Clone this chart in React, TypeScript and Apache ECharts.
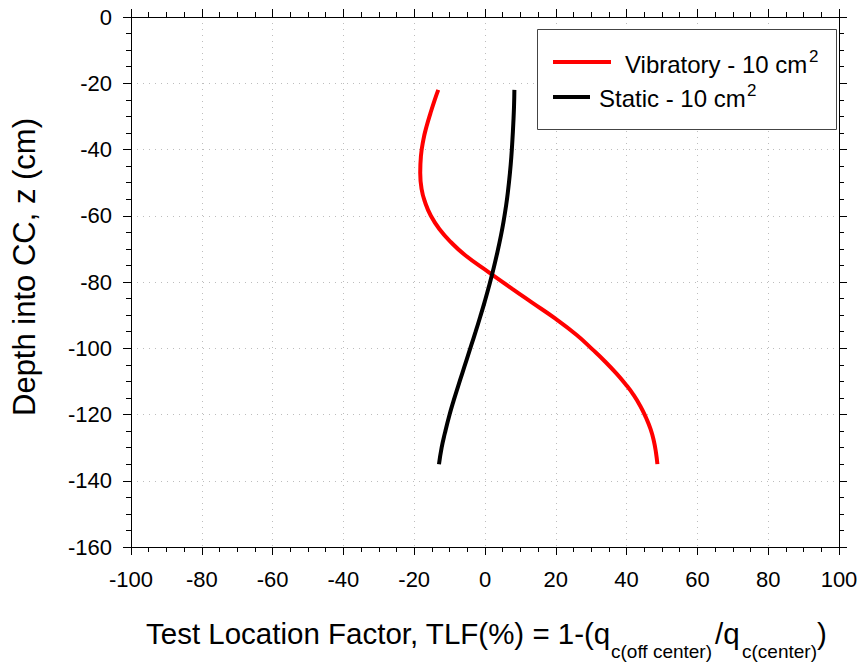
import React, { useEffect, useRef } from "react";
import * as echarts from "echarts";

// Vibratory - 10 cm2 (red): depth z (cm) and TLF (%)
const vibDepth = [-22, -25, -29, -33, -37, -42, -47, -52, -56, -60, -64, -68, -72, -77, -82, -86, -91, -96, -100.5, -104, -107.6, -111, -114, -117.5, -121, -124.5, -128, -131.5, -135];
const vibTLF = [-13.2, -14.2, -15.4, -16.5, -17.4, -18.1, -18.3, -17.9, -16.9, -15.3, -12.9, -9.6, -5.5, 1.0, 7.6, 13.0, 19.8, 25.9, 30.5, 33.9, 37.1, 39.8, 41.9, 43.9, 45.5, 46.8, 47.7, 48.3, 48.7];

// Static - 10 cm2 (black): depth z (cm) and TLF (%)
const staticDepth = [-22, -27, -32, -37, -42, -47, -53, -57, -62, -66, -71, -76, -81, -86, -90.5, -95, -99, -103.5, -107.5, -111.5, -115.6, -120, -125.7, -130, -135];
const staticTLF = [8.3, 8.2, 8.0, 7.75, 7.45, 7.05, 6.45, 5.95, 5.2, 4.5, 3.5, 2.4, 1.2, -0.1, -1.35, -2.65, -3.85, -5.2, -6.4, -7.6, -8.8, -10.0, -11.35, -12.25, -13.0];

const xRange = [-100, 100];
const yRange = [-160, 0];
const majorStep = 20;

const seriesNames = ["Vibratory - 10 cm", "Static - 10 cm"];

const FONT = "'Liberation Sans', Arial, Helvetica, sans-serif";

export default function App() {
  const ref = useRef<HTMLDivElement>(null);

  useEffect(() => {
    if (!ref.current) return;
    const chart = echarts.init(ref.current, undefined, { renderer: "svg" });

    const vibData = vibDepth.map((z, i) => [vibTLF[i], z]);
    const staticData = staticDepth.map((z, i) => [staticTLF[i], z]);

    const axisLine = { show: true, onZero: false, lineStyle: { color: "#000", width: 1 } };
    const tick = { show: true, inside: false, length: 8, lineStyle: { color: "#000", width: 1 } };
    const minor = { show: true, splitNumber: 4, length: 5, lineStyle: { color: "#000", width: 1 } };
    const gridLine = { show: true, lineStyle: { color: "#bdbdbd", width: 1, type: [1, 5] } };
    const label = { color: "#000", fontSize: 22, fontFamily: FONT };

    const t = (text: string, x: number, y: number, size: number, align = "left") => ({
      type: "text",
      x,
      y,
      silent: true,
      style: {
        text,
        x: 0,
        y: 0,
        fill: "#000",
        fontSize: size,
        fontFamily: FONT,
        align,
        verticalAlign: "middle",
      },
    });

    chart.setOption({
      animation: false,
      backgroundColor: "#fff",
      grid: { left: 131, right: 22, top: 17, bottom: 118, containLabel: false },
      xAxis: [
        {
          type: "value",
          position: "bottom",
          min: xRange[0],
          max: xRange[1],
          interval: majorStep,
          axisLine,
          axisTick: tick,
          minorTick: minor,
          splitLine: gridLine,
          axisLabel: { ...label, margin: 21 },
        },
        {
          type: "value",
          position: "top",
          min: xRange[0],
          max: xRange[1],
          interval: majorStep,
          axisLine,
          axisTick: tick,
          minorTick: minor,
          splitLine: { show: false },
          axisLabel: { show: false },
        },
      ],
      yAxis: [
        {
          type: "value",
          position: "left",
          min: yRange[0],
          max: yRange[1],
          interval: majorStep,
          axisLine,
          axisTick: tick,
          minorTick: minor,
          splitLine: gridLine,
          axisLabel: { ...label, margin: 19 },
        },
        {
          type: "value",
          position: "right",
          min: yRange[0],
          max: yRange[1],
          interval: majorStep,
          axisLine,
          axisTick: tick,
          minorTick: minor,
          splitLine: { show: false },
          axisLabel: { show: false },
        },
      ],
      series: [
        {
          name: seriesNames[0],
          type: "line",
          xAxisIndex: 0,
          yAxisIndex: 0,
          data: vibData,
          smooth: 0.5,
          showSymbol: false,
          lineStyle: { color: "#ff0000", width: 4 },
          itemStyle: { color: "#ff0000" },
          z: 2,
        },
        {
          name: seriesNames[1],
          type: "line",
          xAxisIndex: 0,
          yAxisIndex: 0,
          data: staticData,
          smooth: 0.5,
          showSymbol: false,
          lineStyle: { color: "#000000", width: 4 },
          itemStyle: { color: "#000000" },
          z: 3,
        },
      ],
      graphic: [
        // legend box
        {
          type: "rect",
          shape: { x: 537.5, y: 29.5, width: 299, height: 100 },
          style: { fill: "#fff", stroke: "#444", lineWidth: 1 },
          z: 10,
        },
        {
          type: "line",
          shape: { x1: 553, y1: 62, x2: 611, y2: 62 },
          style: { stroke: "#ff0000", lineWidth: 4 },
          z: 11,
        },
        {
          type: "line",
          shape: { x1: 553, y1: 97, x2: 590, y2: 97 },
          style: { stroke: "#000", lineWidth: 4 },
          z: 11,
        },
        { ...t(seriesNames[0], 625, 64.5, 24), z: 11 },
        { ...t("2", 809, 56, 17), z: 11 },
        { ...t(seriesNames[1], 599, 98.5, 24), z: 11 },
        { ...t("2", 747, 90, 17), z: 11 },
        // x axis title
        t("Test Location Factor, TLF(%) = 1-(q", 146, 633, 29.5),
        t("c(off center)", 611, 651.5, 19),
        t("/q", 715, 633, 29.5),
        t("c(center)", 742, 651.5, 19),
        t(")", 817, 633, 29.5),
        // y axis title
        {
          type: "text",
          x: 24.5,
          y: 267,
          rotation: Math.PI / 2,
          silent: true,
          style: {
            text: "Depth into CC, z (cm)",
            x: 0,
            y: 0,
            fill: "#000",
            fontSize: 31,
            fontFamily: FONT,
            align: "center",
            verticalAlign: "middle",
          },
        },
      ],
    });

    return () => chart.dispose();
  }, []);

  return (
    <div
      ref={ref}
      style={{ position: "absolute", left: 0, top: 0, width: 861, height: 665, background: "#fff" }}
    />
  );
}
